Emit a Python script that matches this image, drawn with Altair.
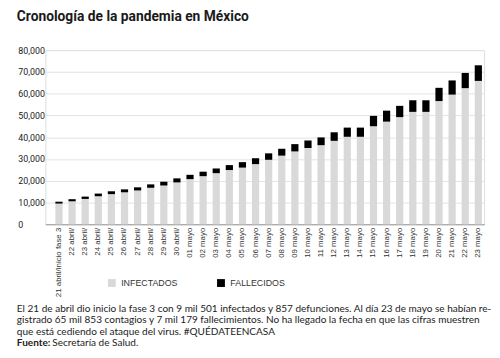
import altair as alt
import pandas as pd

# ---- data ----
fechas = [
    "21 abril/inicio fase 3", "22 abril/", "23 abril/", "24 abril/", "25 abril/",
    "26 abril/", "27 abril/", "28 abril/", "29 abril/", "30 abril/",
    "01 mayo", "02 mayo", "03 mayo", "04 mayo", "05 mayo", "06 mayo", "07 mayo",
    "08 mayo", "09 mayo", "10 mayo", "11 mayo", "12 mayo", "13 mayo", "14 mayo",
    "15 mayo", "16 mayo", "17 mayo", "18 mayo", "19 mayo", "20 mayo", "21 mayo",
    "22 mayo", "23 mayo",
]
infectados = [
    9501, 10544, 11633, 12872, 13842, 14677, 15529, 16752, 17799, 19224,
    20739, 22088, 23471, 24905, 26025, 27634, 29616, 31522, 33460, 35022,
    36327, 38324, 40186, 40186, 45032, 47144, 49219, 51633, 51633, 56594,
    59567, 62527, 65856,
]
fallecidos = [
    857, 970, 1069, 1221, 1305, 1351, 1434, 1569, 1732, 1859,
    1972, 2061, 2154, 2271, 2507, 2704, 2961, 3160, 3353, 3465,
    3573, 3926, 4220, 4220, 4767, 5045, 5177, 5332, 5332, 6090,
    6510, 6989, 7179,
]
series = ["INFECTADOS", "FALLECIDOS"]
colores = ["#d9d9d9", "#000000"]
y_ticks = [0, 10000, 20000, 30000, 40000, 50000, 60000, 70000, 80000]

titulo = "Cronología de la pandemia en México"
nota = [
    "El 21 de abril dio inicio la fase 3 con 9 mil 501 infectados y 857 defunciones. Al día 23 de mayo se habían re-",
    "gistrado 65 mil 853 contagios y 7 mil 179 fallecimientos. No ha llegado la fecha en que las cifras muestren",
    "que está cediendo el ataque del virus. #QUÉDATEENCASA",
]
fuente_label = "Fuente:"
fuente = "Secretaría de Salud."

FONT_T = "Roboto, sans-serif"
FONT_N = "Lato, sans-serif"
FONT2 = "Liberation Sans, Arial, sans-serif"

rows = []
for i, f in enumerate(fechas):
    rows.append({"fecha": f, "tipo": series[0], "valor": infectados[i], "orden": 0})
    rows.append({"fecha": f, "tipo": series[1], "valor": fallecidos[i], "orden": 1})
df = pd.DataFrame(rows)

bars = alt.Chart(df).mark_bar().encode(
    x=alt.X(
        "fecha:N", sort=fechas, title=None,
        scale=alt.Scale(paddingInner=0.45, paddingOuter=0.465, align=0.82),
        axis=alt.Axis(labelAngle=270, labelAlign="right", labelBaseline="middle",
                      labelPadding=3, ticks=False, domainColor="#9a9a9a",
                      labelFont=FONT2, labelFontSize=8, labelColor="#333333",
                      grid=False),
    ),
    y=alt.Y(
        "valor:Q", stack="zero", title=None,
        scale=alt.Scale(domain=[0, 80000], nice=False),
        axis=alt.Axis(values=y_ticks, format=",d", domain=False, ticks=False,
                      labelAlign="left", labelPadding=28, labelFont=FONT_T,
                      labelFontSize=9, labelColor="#222222",
                      gridColor="#e2e2e2"),
    ),
    color=alt.Color(
        "tipo:N", title=None,
        scale=alt.Scale(domain=series, range=colores),
        legend=alt.Legend(orient="none", legendX=63, legendY=232,
                          direction="horizontal", symbolType="square",
                          symbolSize=64, symbolStrokeWidth=0,
                          labelFont=FONT2, labelFontSize=9, labelColor="#333333",
                          labelOffset=5, columnPadding=39),
    ),
    order=alt.Order("orden:Q", sort="ascending"),
)

layers = [bars]
layers.append(
    alt.Chart(pd.DataFrame({"t": [titulo]})).mark_text(
        x=-29, y=-34, align="left", baseline="middle", font=FONT_T,
        fontSize=14, fontWeight="bold", color="#1a1a1a",
    ).encode(text="t:N")
)
base_y = [266, 277.7, 289.4]
for line, yy in zip(nota, base_y):
    layers.append(
        alt.Chart(pd.DataFrame({"t": [line]})).mark_text(
            x=-29, y=yy, align="left", baseline="alphabetic", font=FONT_N,
            fontSize=10.2, color="#222222",
        ).encode(text="t:N")
    )
layers.append(
    alt.Chart(pd.DataFrame({"t": [fuente_label]})).mark_text(
        x=-29, y=301, align="left", baseline="alphabetic", font=FONT_N,
        fontSize=10.2, fontWeight="bold", color="#222222",
    ).encode(text="t:N")
)
layers.append(
    alt.Chart(pd.DataFrame({"t": [fuente]})).mark_text(
        x=7, y=301, align="left", baseline="alphabetic", font=FONT_N,
        fontSize=10.2, color="#222222",
    ).encode(text="t:N")
)

chart = alt.layer(*layers).properties(
    width=446, height=177,
    autosize=alt.AutoSizeParams(type="none"),
    padding={"left": 38, "top": 40, "right": 8, "bottom": 125},
).configure_view(stroke=None).configure(background="white")

chart.save("out.html", embed_options={"renderer": "svg", "actions": False})
